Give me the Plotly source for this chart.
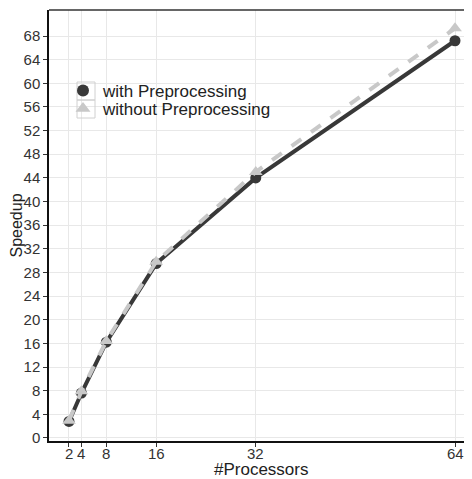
import plotly.graph_objects as go

processors = [2, 4, 8, 16, 32, 64]
with_pre = [2.8, 7.6, 16.2, 29.5, 44.0, 67.2]
without_pre = [2.9, 7.9, 16.4, 29.8, 45.0, 69.3]
x_ticks = [2, 4, 8, 16, 32, 64]
y_ticks = list(range(0, 72, 4))

dark = "#383838"
light = "#c8c8c8"

# page body has an 8px margin, so the figure is laid out 8px smaller
OFF = 8
W, H = 472 - OFF, 479 - OFF
ML, MR, MT, MB = 49 - OFF, 0, 10 - OFF, 38
PW, PH = W - ML - MR, H - MT - MB


def px(xw):
    return (xw - OFF - ML) / PW


def py(yw):
    return (H - MB - (yw - OFF)) / PH


fig = go.Figure()
fig.add_trace(go.Scatter(x=processors, y=with_pre, mode="lines+markers",
                         line=dict(color=dark, width=4),
                         marker=dict(symbol="circle", size=11, color=dark),
                         showlegend=False))
fig.add_trace(go.Scatter(x=processors, y=without_pre, mode="lines+markers",
                         line=dict(color=light, width=4, dash="dash"),
                         marker=dict(symbol="triangle-up", size=12, color=light),
                         showlegend=False))
# legend entries (symbol only, like the reference key)
fig.add_trace(go.Scatter(x=[None], y=[None], mode="markers", name="with Preprocessing",
                         marker=dict(symbol="circle", size=12, color=dark), legend="legend"))
fig.add_trace(go.Scatter(x=[None], y=[None], mode="markers", name="without Preprocessing",
                         marker=dict(symbol="triangle-up", size=13, color=light), legend="legend2"))

font = "Liberation Sans, Arial, sans-serif"
leg_common = dict(xanchor="left", yanchor="middle", bgcolor="rgba(255,255,255,0)",
                  borderwidth=0, font=dict(size=17, color="#222222", family=font),
                  itemwidth=30)

# x tick labels placed as text annotations (closer to the axis than plotly's default)
tick_annots = [dict(text=str(t), x=t, xref="x", yref="paper", y=py(453),
                    xanchor="center", yanchor="middle", showarrow=False,
                    font=dict(size=15, color="#333333")) for t in x_ticks]

fig.update_layout(
    width=W, height=H,
    margin=dict(l=ML, r=MR, t=MT, b=MB, autoexpand=False),
    plot_bgcolor="white", paper_bgcolor="white",
    font=dict(family=font, size=15, color="#333333"),
    legend=dict(x=px(63), y=py(91), **leg_common),
    legend2=dict(x=px(63), y=py(109), **leg_common),
    xaxis=dict(range=[-1.21, 66.73], tickvals=x_ticks, showticklabels=False,
               showgrid=True, gridcolor="#e8e8e8", gridwidth=1, zeroline=False,
               showline=True, linecolor="#111111", linewidth=1.5, automargin=False,
               ticks="outside", ticklen=4, tickcolor="#333333"),
    yaxis=dict(range=[-0.51, 72.4], tickvals=y_ticks,
               showgrid=True, gridcolor="#e8e8e8", gridwidth=1, zeroline=False,
               showline=True, linecolor="#111111", linewidth=1.5, automargin=False,
               ticks="outside", ticklen=4, tickcolor="#333333",
               tickfont=dict(size=15, color="#333333")),
    annotations=tick_annots + [
        dict(text="#Processors", xref="paper", yref="paper", x=0.5, y=py(469),
             xanchor="center", yanchor="middle", showarrow=False,
             font=dict(size=17, color="#222222")),
        dict(text="Speedup", xref="paper", yref="paper", x=px(16), y=0.5,
             xanchor="center", yanchor="middle", textangle=-90, showarrow=False,
             font=dict(size=16, color="#222222")),
    ],
    shapes=[
        dict(type="line", xref="paper", yref="paper", x0=0, x1=1, y0=1, y1=1,
             line=dict(color="#333333", width=1.5)),
        # legend background and key boxes
        dict(type="rect", xref="paper", yref="paper", x0=px(76), x1=px(276),
             y0=py(78), y1=py(120), fillcolor="white", line=dict(width=0), layer="below"),
        dict(type="rect", xref="paper", yref="paper", x0=px(77), x1=px(95),
             y0=py(82), y1=py(100), line=dict(color="#d0d0d0", width=1)),
        dict(type="rect", xref="paper", yref="paper", x0=px(77), x1=px(95),
             y0=py(100), y1=py(118), line=dict(color="#d0d0d0", width=1)),
    ],
)

fig.write_html("out.html")
